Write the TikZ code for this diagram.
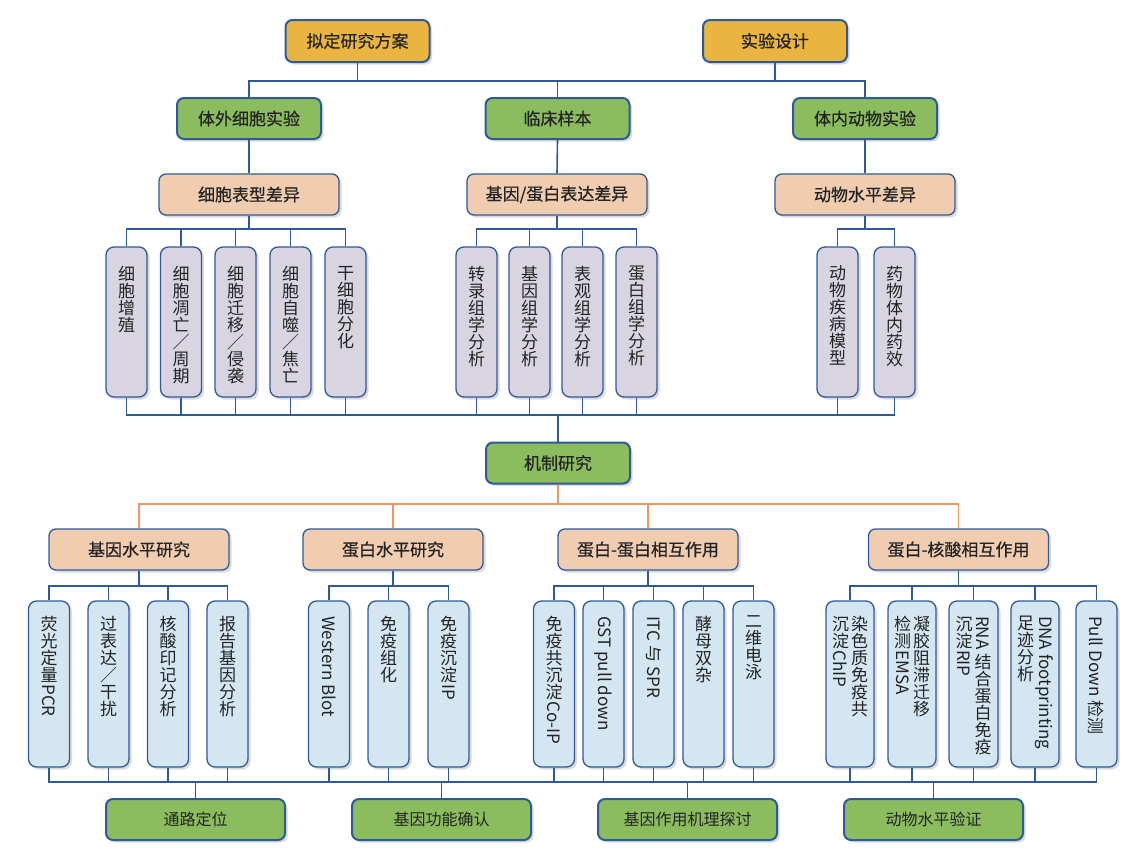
\documentclass[tikz,border=0pt]{standalone}
\usepackage{graphicx}
\usepackage{fontspec}
\setmainfont{Noto Sans CJK SC}
\newfontfamily\hdfont[FakeBold=0.6]{Noto Sans CJK SC}
\usetikzlibrary{shadows}
\definecolor{bdr}{RGB}{46,90,156}
\definecolor{txt}{RGB}{35,35,35}
\definecolor{goldc}{RGB}{233,180,64}
\definecolor{greenc}{RGB}{139,189,94}
\definecolor{peachc}{RGB}{240,205,177}
\definecolor{lavc}{RGB}{217,213,224}
\definecolor{bluec}{RGB}{211,230,242}
\definecolor{orc}{RGB}{239,150,98}
\newcommand\rotlat[1]{\raisebox{0.82em}{\rotatebox{-90}{#1}}}
\newcommand\vtext[4]{\parbox[c][#1][t]{#2}{\vspace*{#3}\centering #4\par\vfill}}
\newcommand\la[1]{\vtext{150pt}{41pt}{19pt}{#1}}
\newcommand\lb[2]{\vtext{166pt}{#1}{15pt}{#2}}
\newcommand\twocol[2]{\parbox[t]{19pt}{\centering #1}\parbox[t]{19pt}{\centering #2}}
\tikzset{
  box/.style={draw=bdr, rounded corners=7pt, inner sep=0pt, text=txt,
    font=\fontsize{17pt}{17pt}\selectfont,
    drop shadow={shadow xshift=2.5pt, shadow yshift=-2.5pt, opacity=0.2, fill=black!70}},
  hbox/.style={box, font=\hdfont\fontsize{17pt}{17pt}\selectfont},
  gold/.style={hbox, fill=goldc, line width=2pt, minimum width=144pt, minimum height=42pt},
  green/.style={hbox, fill=greenc, line width=2pt, minimum width=144pt, minimum height=41pt},
  greenb/.style={box, fill=greenc, line width=2pt, minimum width=179pt, minimum height=41pt, font=\fontsize{16pt}{16pt}\selectfont},
  peach/.style={hbox, fill=peachc, line width=1.3pt, minimum width=180pt, minimum height=41pt},
  leafA/.style={box, fill=lavc, line width=1.3pt, rounded corners=8pt},
  leafB/.style={box, fill=bluec, line width=1.3pt, rounded corners=8pt},
  conn/.style={draw=bdr, line width=1.6pt},
  oconn/.style={draw=orc, line width=1.6pt},
}
\begin{document}
\begin{tikzpicture}[x=1pt,y=-1pt]
\useasboundingbox (0,0) rectangle (1146,860);
\fill[white] (0,0) rectangle (1146,860);

% bus levels
\coordinate (bus1) at (0,81);
\coordinate (bus2) at (0,229);
\coordinate (bus3) at (0,415);
\coordinate (bus4) at (0,504);
\coordinate (bus5) at (0,586);
\coordinate (bus6) at (0,782);

% row 1
\node[gold] (P1) at (357.5,41) {拟定研究方案};
\node[gold] (P2) at (775,41) {实验设计};
% row 2
\node[green] (G1) at (249,118.5) {体外细胞实验};
\node[green] (G2) at (557.5,118.5) {临床样本};
\node[green] (G3) at (865,118.5) {体内动物实验};
% row 3
\node[peach] (Q1) at (249,194.5) {细胞表型差异};
\node[peach] (Q2) at (557,194.5) {基因/蛋白表达差异};
\node[peach] (Q3) at (865,194.5) {动物水平差异};
% row 4 leaves
\node[leafA] (L1) at (126.5,322) {\la{细\\胞\\增\\殖}};
\node[leafA] (L2) at (181,322) {\la{细\\胞\\凋\\亡\\／\\周\\期}};
\node[leafA] (L3) at (235.5,322) {\la{细\\胞\\迁\\移\\／\\侵\\袭}};
\node[leafA] (L4) at (290.5,322) {\la{细\\胞\\自\\噬\\／\\焦\\亡}};
\node[leafA] (L5) at (345.5,322) {\la{干\\细\\胞\\分\\化}};
\node[leafA] (L6) at (476.5,322) {\la{转\\录\\组\\学\\分\\析}};
\node[leafA] (L7) at (529.5,322) {\la{基\\因\\组\\学\\分\\析}};
\node[leafA] (L8) at (582.5,322) {\la{表\\观\\组\\学\\分\\析}};
\node[leafA] (L9) at (636.5,322) {\la{蛋\\白\\组\\学\\分\\析}};
\node[leafA] (L10) at (837.5,322) {\la{动\\物\\疾\\病\\模\\型}};
\node[leafA] (L11) at (894.5,322) {\la{药\\物\\体\\内\\药\\效}};
% mechanism
\node[green] (M) at (558,463) {机制研究};
% row 5
\node[peach] (R1) at (139,549.5) {基因水平研究};
\node[peach] (R2) at (393,549.5) {蛋白水平研究};
\node[peach] (R3) at (648,549.5) {蛋白-蛋白相互作用};
\node[peach] (R4) at (958.5,549.5) {蛋白-核酸相互作用};
% row 6 leaves
\node[leafB] (F1) at (49,684) {\lb{41pt}{荧\\光\\定\\量\\\rotlat{PCR}}};
\node[leafB] (F2) at (108.5,684) {\lb{41pt}{过\\表\\达\\／\\干\\扰}};
\node[leafB] (F3) at (168,684) {\lb{41pt}{核\\酸\\印\\记\\分\\析}};
\node[leafB] (F4) at (227.5,684) {\lb{41pt}{报\\告\\基\\因\\分\\析}};
\node[leafB] (F5) at (329,684) {\lb{41pt}{\rotlat{Western Blot}}};
\node[leafB] (F6) at (388.5,684) {\lb{41pt}{免\\疫\\组\\化}};
\node[leafB] (F7) at (448.5,684) {\lb{41pt}{免\\疫\\沉\\淀\\\rotlat{IP}}};
\node[leafB] (F8) at (554,684) {\lb{41pt}{免\\疫\\共\\沉\\淀\\\rotlat{Co-IP}}};
\node[leafB] (F9) at (603.5,684) {\lb{41pt}{\rotlat{GST pull down}}};
\node[leafB] (F10) at (653.5,684) {\lb{41pt}{\rotlat{ITC 与 SPR}}};
\node[leafB] (F11) at (703.5,684) {\lb{41pt}{酵\\母\\双\\杂}};
\node[leafB] (F12) at (753.5,684) {\lb{41pt}{二\\维\\电\\泳}};
\node[leafB] (F13) at (850,684) {\lb{48pt}{\twocol{沉\\淀\\\rotlat{ChIP}}{染\\色\\质\\免\\疫\\共}}};
\node[leafB] (F14) at (912,684) {\lb{48pt}{\twocol{检\\测\\\rotlat{EMSA}}{凝\\胶\\阻\\滞\\迁\\移}}};
\node[leafB] (F15) at (973.5,684) {\lb{49pt}{\twocol{沉\\淀\\\rotlat{RIP}}{\rotlat{RNA\ }\\结\\合\\蛋\\白\\免\\疫}}};
\node[leafB] (F16) at (1035,684) {\lb{48pt}{\twocol{足\\迹\\分\\析}{\rotlat{DNA footprinting}}}};
\node[leafB] (F17) at (1096.5,684) {\lb{41pt}{\rotlat{Pull Down 检测}}};
% bottom row
\node[greenb] (B1) at (195.5,819.5) {通路定位};
\node[greenb] (B2) at (441.5,819.5) {基因功能确认};
\node[greenb] (B3) at (687.5,819.5) {基因作用机理探讨};
\node[greenb] (B4) at (933.5,819.5) {动物水平验证};

% connectors: top
\foreach \c in {G1,G2,G3}
  \draw[conn] (P1.south) -- (P1.south |- bus1) -| (\c.north);
\draw[conn] (P2.south) -- (P2.south |- bus1);
\draw[conn] (G1.south) -- (Q1.north);
\draw[conn] (G2.south) -- (Q2.north);
\draw[conn] (G3.south) -- (Q3.north);
\foreach \c in {L1,L2,L3,L4,L5}
  \draw[conn] (Q1.south) -- (Q1.south |- bus2) -| (\c.north);
\foreach \c in {L6,L7,L8,L9}
  \draw[conn] (Q2.south) -- (Q2.south |- bus2) -| (\c.north);
\foreach \c in {L10,L11}
  \draw[conn] (Q3.south) -- (Q3.south |- bus2) -| (\c.north);
\foreach \c in {L1,L2,L3,L4,L5,L6,L7,L8,L9,L10,L11}
  \draw[conn] (\c.south) -- (\c.south |- bus3) -| (M.north);
% orange
\foreach \c in {R1,R2,R3,R4}
  \draw[oconn] (M.south) -- (M.south |- bus4) -| (\c.north);
% row 5 to leaves
\foreach \c in {F1,F2,F3,F4}
  \draw[conn] (R1.south) -- (R1.south |- bus5) -| (\c.north);
\foreach \c in {F5,F6,F7}
  \draw[conn] (R2.south) -- (R2.south |- bus5) -| (\c.north);
\foreach \c in {F8,F9,F10,F11,F12}
  \draw[conn] (R3.south) -- (R3.south |- bus5) -| (\c.north);
\foreach \c in {F13,F14,F15,F16,F17}
  \draw[conn] (R4.south) -- (R4.south |- bus5) -| (\c.north);
% bottom bus
\draw[conn] (F1.south) -- (F1.south |- bus6) -- (F17.south |- bus6) -- (F17.south);
\foreach \c in {F2,F3,F4,F5,F6,F7,F8,F9,F10,F11,F12,F13,F14,F15,F16}
  \draw[conn] (\c.south) -- (\c.south |- bus6);
\foreach \c in {B1,B2,B3,B4}
  \draw[conn] (\c.north) -- (\c.north |- bus6);
\end{tikzpicture}
\end{document}
